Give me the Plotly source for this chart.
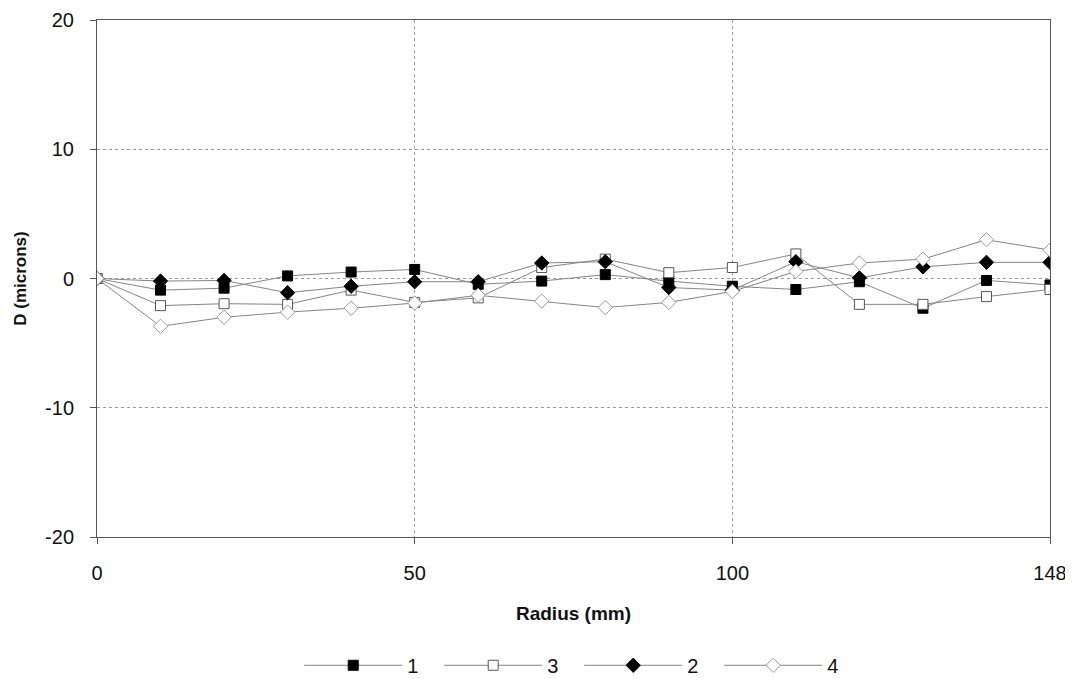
import plotly.graph_objects as go

# radius positions (mm) -- plotted as evenly spaced categories
radius = [0, 10, 20, 30, 40, 50, 60, 70, 80, 90, 100, 110, 120, 130, 140, 148]
shown_ticks = ["0", "50", "100", "148"]
y_ticks = [-20, -10, 0, 10, 20]
y_labels = ["-20", "-10", "0", "10", "20"]

# deviation D (microns) for each run
d1 = [0, -0.9, -0.75, 0.2, 0.5, 0.7, -0.45, -0.2, 0.3, -0.2, -0.6, -0.85, -0.25, -2.3, -0.15, -0.5]
d3 = [0, -2.1, -1.95, -2.0, -0.9, -1.85, -1.5, 0.85, 1.5, 0.45, 0.85, 1.9, -2.0, -2.0, -1.4, -0.85]
d2 = [0, -0.2, -0.15, -1.1, -0.6, -0.25, -0.25, 1.2, 1.3, -0.7, -0.9, 1.3, 0.05, 0.9, 1.25, 1.25]
d4 = [0, -3.7, -3.0, -2.6, -2.3, -1.9, -1.3, -1.75, -2.25, -1.85, -1.0, 0.55, 1.2, 1.5, 3.0, 2.2]

x = [str(r) for r in radius]
line_col = "#858585"

series = [
    ("1", d1, dict(symbol="square", size=10, color="#000000", line=dict(color="#000000", width=1))),
    ("3", d3, dict(symbol="square", size=10, color="#ffffff", line=dict(color="#555555", width=1))),
    ("2", d2, dict(symbol="diamond", size=11, color="#000000", line=dict(color="#000000", width=1))),
    ("4", d4, dict(symbol="diamond", size=11, color="#ffffff", line=dict(color="#999999", width=1))),
]

fig = go.Figure()
for name, vals, mk in series:
    fig.add_trace(go.Scatter(x=x, y=vals, name=name, mode="lines+markers",
                             line=dict(color=line_col, width=1), marker=mk))

# page body has an 8px margin, so the margins are trimmed to land the plot box right
fig.update_layout(
    width=1073, height=679,
    margin=dict(l=89, r=31, t=12, b=150),
    paper_bgcolor="white", plot_bgcolor="white",
    font=dict(family="Liberation Sans, Arial, sans-serif", size=20, color="#111111"),
    showlegend=True,
    legend=dict(orientation="h", x=0.506, xanchor="center", yref="container", y=0.032,
                yanchor="middle", font=dict(size=20), itemwidth=98, entrywidth=27,
                entrywidthmode="pixels", traceorder="normal"),
    xaxis=dict(type="category", range=[0, 15], tickmode="array", tickvals=shown_ticks,
               ticktext=shown_ticks, showgrid=True, gridcolor="#9a9a9a", griddash="dot",
               gridwidth=1, showline=True, linecolor="#555555", linewidth=1, mirror=True,
               ticks="outside", ticklen=6, tickcolor="#555555", ticklabelstandoff=12,
               zeroline=False, automargin=False,
               title=dict(text="<b>Radius (mm)</b>", font=dict(size=19), standoff=23)),
    yaxis=dict(range=[-20, 20], tickmode="array", tickvals=y_ticks, ticktext=y_labels,
               showgrid=True, gridcolor="#9a9a9a", griddash="dot", gridwidth=1,
               showline=True, linecolor="#555555", linewidth=1, mirror=True,
               ticks="outside", ticklen=6, tickcolor="#555555", ticklabelstandoff=12,
               zeroline=False, automargin=False,
               title=dict(text="<b>D (microns)</b>", font=dict(size=17), standoff=14)),
)

fig.write_html("out.html")
